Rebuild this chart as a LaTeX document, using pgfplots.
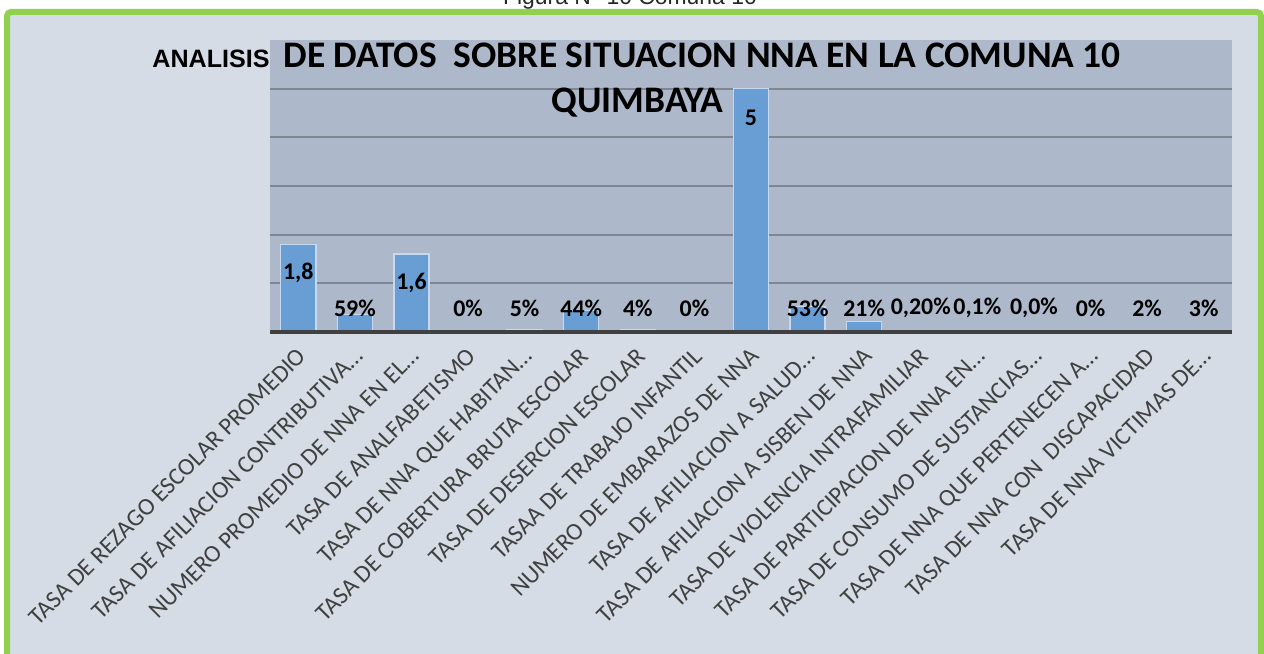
\documentclass[border=0pt]{standalone}
\usepackage{fontspec}
\setmainfont{Carlito}
\newfontfamily\arialfont{Liberation Sans}
\usepackage{pgfplots}
\pgfplotsset{compat=1.18}
\usepackage{pgfplotstable}

\definecolor{framegreen}{RGB}{146,208,80}
\definecolor{outerbg}{RGB}{214,220,229}
\definecolor{plotbg}{RGB}{173,185,202}
\definecolor{barblue}{RGB}{104,158,212}
\definecolor{baredge}{RGB}{197,217,240}
\definecolor{gridgray}{RGB}{128,134,145}
\definecolor{labelgray}{RGB}{64,64,64}

% x = category, y = bar height, ly = where the value label sits
\pgfplotstableread{
x y     ly   lbl
0 1.80  1.21 1,8
1 0.36  0.49 59\%
2 1.60  1.01 1,6
3 0     0.49 0\%
4 0.05  0.49 5\%
5 0.44  0.49 44\%
6 0.04  0.49 4\%
7 0     0.49 0\%
8 5.00  4.41 5
9 0.53  0.49 53\%
10 0.21 0.49 21\%
11 0.002 0.49 0,20\%
12 0.001 0.49 0,1\%
13 0    0.49 0,0\%
14 0    0.49 0\%
15 0.02 0.49 2\%
16 0.03 0.49 3\%
}\datatable

\begin{document}
\begin{tikzpicture}
\useasboundingbox (0,0) rectangle (632bp,327bp);
\fill[outerbg] (3.5bp,-20bp) rectangle (630.5bp,321bp);
\draw[framegreen, line width=3bp, rounded corners=2bp]
  (3.5bp,-20bp) -- (3.5bp,321bp) -- (630.5bp,321bp) -- (630.5bp,-20bp);
\node[font=\arialfont\fontsize{11.5}{12}\selectfont, anchor=base, inner sep=0pt, text=black!85]
  at (315bp,324.5bp) {Figura N° 10 Comuna 10};

\begin{axis}[
  scale only axis,
  width=481bp, height=146bp,
  at={(135bp,161bp)}, anchor=south west,
  xmin=-0.5, xmax=16.5, ymin=0, ymax=6,
  axis background/.style={fill=plotbg},
  axis line style={draw=none},
  ytick={1,2,3,4,5}, yticklabels={},
  ymajorgrids,
  grid style={gridgray, line width=0.9bp},
  xtick={0,...,16},
  xticklabels={
    TASA DE REZAGO ESCOLAR PROMEDIO,
    TASA DE AFILIACION CONTRIBUTIVA…,
    NUMERO PROMEDIO DE NNA EN EL…,
    TASA DE ANALFABETISMO,
    TASA DE NNA QUE HABITAN…,
    TASA DE COBERTURA BRUTA ESCOLAR,
    TASA DE DESERCION ESCOLAR,
    TASAA DE TRABAJO INFANTIL,
    NUMERO DE EMBARAZOS DE NNA,
    TASA DE AFILIACION A SALUD…,
    TASA DE AFILIACION A SISBEN DE NNA,
    TASA DE VIOLENCIA INTRAFAMILIAR,
    TASA DE PARTICIPACION DE NNA EN…,
    TASA DE CONSUMO DE SUSTANCIAS…,
    TASA DE NNA QUE PERTENECEN A…,
    {TASA DE NNA CON\ \ DISCAPACIDAD},
    TASA DE NNA VICTIMAS DE…},
  major tick length=0pt,
  xticklabel shift=6bp,
  x tick label style={rotate=45, anchor=north east, inner sep=0pt,
    font=\fontsize{12.2}{13}\selectfont, text=labelgray, xshift=-1.5bp},
  clip=false,
]
\addplot[ybar, bar width=0.62, fill=barblue, draw=baredge, line width=0.7bp]
  table[x=x, y=y] {\datatable};
\addplot[draw=none, mark=none, nodes near coords, point meta=explicit symbolic,
  every node near coord/.append style={anchor=center, inner sep=0pt,
    font=\bfseries\fontsize{12}{13}\selectfont, text=black}]
  table[x=x, y=ly, meta=lbl] {\datatable};
\draw[labelgray, line width=2bp] (axis cs:-0.5,0) -- (axis cs:16.5,0);
\end{axis}

\node[anchor=base west, inner sep=0pt] at (76bp,293bp)
  {{\arialfont\bfseries\fontsize{12.6}{13}\selectfont ANALISIS}\hspace{7bp}{\bfseries\fontsize{18.8}{20}\selectfont DE DATOS\ \ SOBRE SITUACION NNA EN LA COMUNA 10}};
\node[anchor=base, inner sep=0pt, font=\bfseries\fontsize{18.8}{20}\selectfont]
  at (318.75bp,270.5bp) {QUIMBAYA};
\end{tikzpicture}
\end{document}
